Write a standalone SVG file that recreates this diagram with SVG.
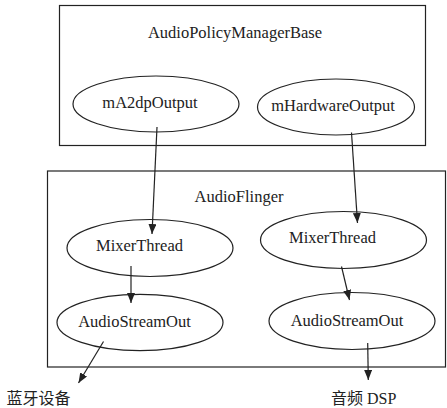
<svg xmlns="http://www.w3.org/2000/svg" width="447" height="408" viewBox="0 0 447 408">
<style>
.box{fill:none;stroke:#222;stroke-width:1.2}
.ell{fill:#fff;stroke:#222;stroke-width:1.2}
.t{font-family:"Liberation Serif","Times New Roman",serif;font-size:16.5px;fill:#222;text-anchor:middle}
.cn{font-family:"Liberation Serif","Noto Sans CJK SC",serif;font-size:16px;fill:#222}
.ln{stroke:#222;stroke-width:1.2;fill:none;marker-end:url(#ah)}
</style>
<defs>
<marker id="ah" viewBox="0 0 10 8" refX="10" refY="4" markerWidth="10" markerHeight="8" markerUnits="userSpaceOnUse" orient="auto">
<path d="M0,0 L10,4 L0,8 z" fill="#222"/>
</marker>
</defs>
<rect width="447" height="408" fill="#fff"/>
<g id="apmb">
<rect class="box" x="59.5" y="5.5" width="366" height="140"/>
<text class="t" x="235" y="38">AudioPolicyManagerBase</text>
</g>
<g id="mA2dpOutput">
<ellipse class="ell" cx="156" cy="104" rx="83" ry="28"/>
<text class="t" x="150" y="108">mA2dpOutput</text>
</g>
<g id="mHardwareOutput">
<ellipse class="ell" cx="336" cy="107" rx="78.5" ry="28"/>
<text class="t" x="333" y="111">mHardwareOutput</text>
</g>
<g id="audioflinger">
<rect class="box" x="47.5" y="171" width="398" height="196"/>
<text class="t" x="239" y="202">AudioFlinger</text>
</g>
<g id="mixer1">
<ellipse class="ell" cx="150" cy="248" rx="83" ry="28.5"/>
<text class="t" x="139.5" y="251">MixerThread</text>
</g>
<g id="mixer2">
<ellipse class="ell" cx="343.5" cy="240" rx="83" ry="28.5"/>
<text class="t" x="332.5" y="243">MixerThread</text>
</g>
<g id="stream1">
<ellipse class="ell" cx="140" cy="322.5" rx="83" ry="28.2"/>
<text class="t" x="134.5" y="327">AudioStreamOut</text>
</g>
<g id="stream2">
<ellipse class="ell" cx="352" cy="321" rx="83" ry="28.5"/>
<text class="t" x="347" y="326">AudioStreamOut</text>
</g>
<g id="bt">
<text class="cn" x="6.5" y="404">蓝牙设备</text>
</g>
<g id="dsp">
<text class="cn" x="331" y="404">音频 DSP</text>
</g>
<g id="connectors">
<line class="ln" x1="157" y1="127" x2="152" y2="234"/>
<line class="ln" x1="351.5" y1="132.5" x2="357.5" y2="223"/>
<line class="ln" x1="131" y1="266" x2="131" y2="303"/>
<line class="ln" x1="341.5" y1="266.5" x2="349.5" y2="300"/>
<line class="ln" x1="103.5" y1="341.5" x2="78.5" y2="383"/>
<line class="ln" x1="367.7" y1="343" x2="368.3" y2="380"/>
</g>
</svg>
